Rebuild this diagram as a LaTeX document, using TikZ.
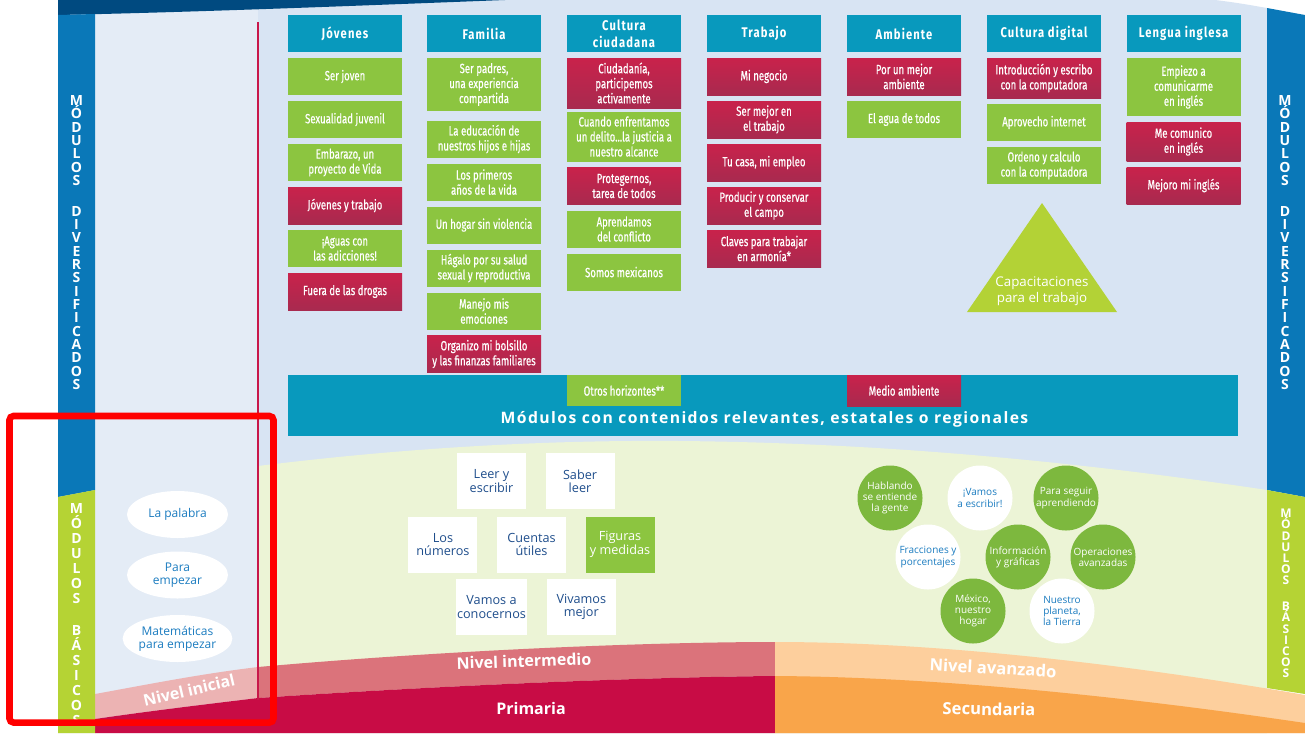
\documentclass[tikz,border=0pt]{standalone}
\usepackage{fontspec}
\setmainfont{Open Sans}
\newfontfamily\condfont{Fira Sans}[FakeStretch=0.72,FakeBold=0.6]
\newfontfamily\headfont{Fira Sans}[FakeStretch=0.8,LetterSpace=8]
\newfontfamily\bandfont{Open Sans}[LetterSpace=9]
\usetikzlibrary{positioning,shapes.geometric}

\definecolor{navy}{HTML}{004A80}
\definecolor{stripblue}{HTML}{0A78B8}
\definecolor{stripgreen}{HTML}{B5D334}
\definecolor{panel}{HTML}{E4ECF6}
\definecolor{mainbg}{HTML}{D8E4F3}
\definecolor{modteal}{HTML}{0899BD}
\definecolor{modgreen}{HTML}{8CC540}
\definecolor{modred}{HTML}{C9224B}
\definecolor{modreddk}{HTML}{A82A4F}
\definecolor{trigreen}{HTML}{B3D236}
\definecolor{arcgreen}{HTML}{ECF4D6}
\definecolor{pinkini}{HTML}{ECB3B3}
\definecolor{rosemid}{HTML}{DB737B}
\definecolor{primred}{HTML}{C80C45}
\definecolor{peach}{HTML}{FDCF9D}
\definecolor{orangesec}{HTML}{F9A54A}
\definecolor{sqnavy}{HTML}{1F4E8C}
\definecolor{ovalblue}{HTML}{1B7CC0}
\definecolor{circgreen}{HTML}{7DB83E}
\definecolor{redline}{HTML}{C8174A}

\tikzset{
  modbox/.style={minimum width=85.5pt,minimum height=27.75pt,inner sep=1pt,
    align=center,text=white,font=\condfont\fontsize{10}{11.25}\selectfont},
  gbox/.style={modbox,fill=modgreen},
  rbox/.style={modbox,top color=modred,bottom color=modreddk},
  hbox/.style={modbox,fill=modteal,font=\headfont\bfseries\fontsize{10.5}{12.5}\selectfont},
  tall/.style={minimum height=#1},
  sq/.style={fill=white,minimum width=51.75pt,minimum height=42pt,inner sep=1pt,
    align=center,text=sqnavy,font=\fontsize{9.5}{10}\selectfont},
  gsq/.style={sq,fill=modgreen,text=white},
  circ/.style={circle,minimum size=48.75pt,inner sep=0pt,align=center,
    font=\fontsize{7.5}{8.3}\selectfont},
  gcirc/.style={circ,fill=circgreen,text=white},
  wcirc/.style={circ,fill=white,text=ovalblue},
  oval/.style={ellipse,fill=white,minimum width=75.75pt,minimum height=35.25pt,
    inner sep=0pt,align=center,text=ovalblue,font=\fontsize{9}{10}\selectfont},
  vlab/.style={text=white,align=center,inner sep=0pt},
  blab/.style={text=white,font=\bfseries\fontsize{12}{14}\selectfont}
}

\begin{document}
\begin{tikzpicture}[x=0.75pt,y=-0.75pt,node distance=4.1pt]
\useasboundingbox (0,0) rectangle (1305,733);
\clip (0,0) rectangle (1305,733);

% fondo
\fill[white] (0,0) rectangle (1305,733);
\fill[mainbg] (58,0) -- (1215,0) .. controls (1240,3) and (1255,6) .. (1267,8) -- (1267,733) -- (58,733) -- cycle;
\fill[panel] (95,0) rectangle (258,733);
\fill[arcgreen] (258,466) .. controls (420,446) and (560,440) .. (680,441)
  .. controls (900,443) and (1100,465) .. (1267,490) -- (1267,733) -- (258,733) -- cycle;
\fill[navy] (58,0) -- (505,0) .. controls (350,6) and (200,12) .. (58,15) -- cycle;

% niveles
\fill[pinkini] (95,694) .. controls (150,684) and (200,674) .. (258,667) -- (258,698)
  .. controls (200,705) and (150,711) .. (95,719) -- cycle;
\fill[rosemid] (258,667) .. controls (450,650) and (650,642) .. (775,642) -- (775,676)
  .. controls (650,677) and (450,685) .. (258,698) -- cycle;
\fill[primred] (95,719) .. controls (150,711) and (200,705) .. (258,698)
  .. controls (450,685) and (650,677) .. (775,676) -- (775,733) -- (95,733) -- cycle;
\fill[peach] (775,642) .. controls (950,642) and (1150,668) .. (1305,695) -- (1305,733) -- (775,733) -- cycle;
\fill[orangesec] (775,676) .. controls (950,677) and (1150,700) .. (1305,723) -- (1305,733) -- (775,733) -- cycle;

% franjas laterales
\fill[stripblue] (58,15) -- (95,14) -- (95,490) -- (58,497) -- cycle;
\fill[stripgreen] (58,497) -- (95,490) -- (95,733) -- (58,733) -- cycle;
\fill[stripblue] (1267,8) -- (1305,15) -- (1305,497) -- (1267,490) -- cycle;
\fill[stripgreen] (1267,490) -- (1305,497) -- (1305,694) -- (1267,688) -- cycle;
\draw[redline,line width=1.1pt] (258,22) -- (258,700);

\node[vlab,font=\bfseries\fontsize{10.5}{10}\selectfont] (divizq) at (76.5,242.5)
  {M\\Ó\\D\\U\\L\\O\\S\\[13pt]D\\I\\V\\E\\R\\S\\I\\F\\I\\C\\A\\D\\O\\S};
\node[vlab,font=\bfseries\fontsize{10.5}{10}\selectfont] (divder) at (1285,242.5)
  {M\\Ó\\D\\U\\L\\O\\S\\[13pt]D\\I\\V\\E\\R\\S\\I\\F\\I\\C\\A\\D\\O\\S};
\node[vlab,anchor=north,font=\bfseries\fontsize{10.5}{11.25}\selectfont] (basizq) at (76.5,503)
  {M\\Ó\\D\\U\\L\\O\\S\\[12.75pt]B\\Á\\S\\I\\C\\O\\S};
\node[vlab,font=\bfseries\fontsize{9}{8.4}\selectfont] (basder) at (1286,593.5)
  {M\\Ó\\D\\U\\L\\O\\S\\[11pt]B\\Á\\S\\I\\C\\O\\S};

% modulos diversificados
\node[hbox] (hjov) at (345,33.5) {Jóvenes};
\node[hbox] (hfam) at (484,33.5) {Familia};
\node[hbox] (hciu) at (624,33.5) {Cultura\\ciudadana};
\node[hbox] (htra) at (764,33.5) {Trabajo};
\node[hbox] (hamb) at (904,33.5) {Ambiente};
\node[hbox] (hdig) at (1044,33.5) {Cultura digital};
\node[hbox] (hing) at (1183.5,33.5) {Lengua inglesa};

\node[gbox] (jov1) [below=of hjov] {Ser joven};
\node[gbox] (jov2) [below=of jov1] {Sexualidad juvenil};
\node[gbox] (jov3) [below=of jov2] {Embarazo, un\\proyecto de Vida};
\node[rbox] (jov4) [below=of jov3] {Jóvenes y trabajo};
\node[gbox] (jov5) [below=of jov4] {¡Aguas con\\las adicciones!};
\node[rbox] (jov6) [below=of jov5] {Fuera de las drogas};

\node[gbox,tall=39.75pt] (fam1) [below=of hfam] {Ser padres,\\una experiencia\\compartida};
\node[gbox] (fam2) [below=6.75pt of fam1] {La educación de\\nuestros hijos e hijas};
\node[gbox] (fam3) [below=of fam2] {Los primeros\\años de la vida};
\node[gbox] (fam4) [below=of fam3] {Un hogar sin violencia};
\node[gbox] (fam5) [below=of fam4] {Hágalo por su salud\\sexual y reproductiva};
\node[gbox] (fam6) [below=of fam5] {Manejo mis\\emociones};
\node[rbox] (fam7) [below=of fam6] {Organizo mi bolsillo\\y las finanzas familiares};

\node[rbox,tall=37.5pt] (ciu1) [below=of hciu] {Ciudadanía,\\participemos\\activamente};
\node[gbox,tall=37.5pt] (ciu2) [below=2.25pt of ciu1] {Cuando enfrentamos\\un delito...la justicia a\\nuestro alcance};
\node[rbox] (ciu3) [below=of ciu2] {Protegernos,\\tarea de todos};
\node[gbox] (ciu4) [below=of ciu3] {Aprendamos\\del conflicto};
\node[gbox] (ciu5) [below=of ciu4] {Somos mexicanos};

\node[rbox] (tra1) [below=of htra] {Mi negocio};
\node[rbox] (tra2) [below=of tra1] {Ser mejor en\\el trabajo};
\node[rbox] (tra3) [below=of tra2] {Tu casa, mi empleo};
\node[rbox] (tra4) [below=of tra3] {Producir y conservar\\el campo};
\node[rbox] (tra5) [below=of tra4] {Claves para trabajar\\en armonía*};

\node[rbox] (amb1) [below=of hamb] {Por un mejor\\ambiente};
\node[gbox] (amb2) [below=of amb1] {El agua de todos};

\node[rbox,tall=30pt] (dig1) [below=of hdig] {Introducción y escribo\\con la computadora};
\node[gbox] (dig2) [below=of dig1] {Aprovecho internet};
\node[gbox] (dig3) [below=of dig2] {Ordeno y calculo\\con la computadora};

\node[gbox,tall=43.5pt] (ing1) [below=of hing] {Empiezo a\\comunicarme\\en inglés};
\node[rbox,tall=29.25pt] (ing2) [below=of ing1] {Me comunico\\en inglés};
\node[rbox] (ing3) [below=of ing2] {Mejoro mi inglés};

\fill[trigreen] (1042,203) -- (1117,312) -- (967,312) -- cycle;
\node[text=white,align=center,font=\fontsize{10}{12}\selectfont] (capac) at (1042,291)
  {Capacitaciones\\para el trabajo};

% contenidos regionales
\node[fill=modteal,minimum width=712.5pt,minimum height=45.75pt,inner sep=0pt] (banda) at (763,405.5) {};
\node[gbox,tall=23.25pt] (otros) at (624,390.5) {Otros horizontes**};
\node[rbox,tall=23.25pt] (medio) at (904,390.5) {Medio ambiente};
\node[text=white,font=\bandfont\bfseries\fontsize{11.8}{13}\selectfont] (bandatxt) at (764.5,419)
  {Módulos con contenidos relevantes, estatales o regionales};

% modulos basicos
\node[oval] (palabra) at (177.5,514.5) {La palabra};
\node[oval] (empezar) at (177.5,575) {Para\\empezar};
\node[oval] (matemp) at (177.5,638.5) {Matemáticas\\para empezar};

\node[sq] (leer) at (491.5,481) {Leer y\\escribir};
\node[sq] (saber) [right=14.25pt of leer] {Saber\\leer};
\node[sq] (cuentas) at (531.5,544.5) {Cuentas\\útiles};
\node[sq] (numeros) [left=14.25pt of cuentas] {Los\\números};
\node[gsq] (figuras) [right=14.25pt of cuentas] {Figuras\\y medidas};
\node[sq] (vamos) at (491.5,607) {Vamos a\\conocernos};
\node[sq] (vivamos) [right=14.25pt of vamos] {Vivamos\\mejor};

\node[gcirc] (hablando) at (890,498) {Hablando\\se entiende\\la gente};
\node[wcirc] (escribir) at (980,498) {¡Vamos\\a escribir!};
\node[gcirc] (seguir) at (1066,498) {Para seguir\\aprendiendo};
\node[wcirc] (fracciones) at (928,557) {Fracciones y\\porcentajes};
\node[gcirc] (informacion) at (1018,557) {Información\\y gráficas};
\node[gcirc] (operaciones) at (1103,557) {Operaciones\\avanzadas};
\node[gcirc] (mexico) at (973,611) {México,\\nuestro\\hogar};
\node[wcirc] (planeta) at (1062,611) {Nuestro\\planeta,\\la Tierra};

\node[blab,rotate=13] (inicial) at (189,690) {Nivel inicial};
\node[blab,rotate=2] (intermedio) at (524,661) {Nivel intermedio};
\node[blab] (primaria) at (531,708) {Primaria};
\node[blab,rotate=-3,font=\bfseries\fontsize{12.5}{14}\selectfont] (avanzado) at (993,668) {Nivel avanzado};
\node[blab,rotate=-1,font=\bfseries\fontsize{12.5}{14}\selectfont] (secundaria) at (989,709) {Secundaria};

\draw[red,line width=4.9pt,rounded corners=3pt] (9.5,416) rectangle (273.5,722.5);
\end{tikzpicture}
\end{document}
